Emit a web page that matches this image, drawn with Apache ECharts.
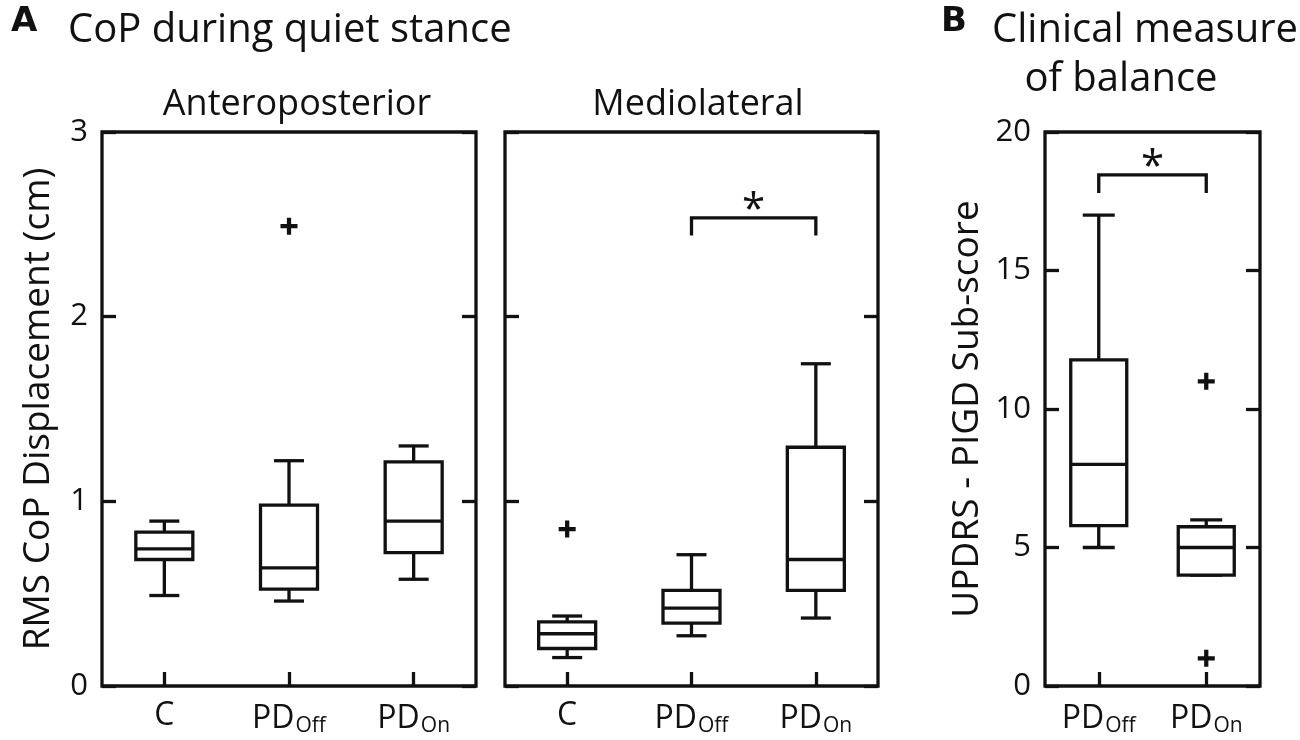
<!DOCTYPE html>
<html><head><meta charset="utf-8">
<script src="https://cdn.jsdelivr.net/npm/echarts@6/dist/echarts.min.js"></script>
<style>html,body{margin:0;padding:0;background:#fff}#c{width:1300px;height:740px}</style>
</head><body><div id="c"></div>
<script>
// ---- data ----
const catsA = ['C', 'PD_Off', 'PD_On'];
const catsB = ['PD_Off', 'PD_On'];
// [low whisker, Q1, median, Q3, high whisker]
const apBoxes = [
  [0.49, 0.685, 0.743, 0.833, 0.893],
  [0.46, 0.525, 0.64, 0.979, 1.22],
  [0.578, 0.722, 0.893, 1.214, 1.30]
];
const apOutliers = [[1, 2.49]];
const mlBoxes = [
  [0.154, 0.203, 0.283, 0.347, 0.379],
  [0.272, 0.34, 0.422, 0.518, 0.711],
  [0.368, 0.518, 0.685, 1.293, 1.745]
];
const mlOutliers = [[0, 0.85]];
const mlSig = [[1, 2, 2.535, 2.44]]; // [from, to, barY, endY]
const pigdBoxes = [
  [5, 5.79, 8, 11.77, 17],
  [4, 4, 5, 5.75, 6]
];
const pigdOutliers = [[1, 11], [1, 1]];
const pigdSig = [[0, 1, 18.45, 17.8]];

const FONT = '"Open Sans", "Noto Sans", sans-serif';
const INK = '#111';
const LW = 3.3;

function boxData(arr) { return arr.map((b, i) => [i].concat(b)); }

function boxRenderer(boxW, capW) {
  return function (params, api) {
    const x = api.value(0);
    const lo = api.coord([x, api.value(1)]);
    const q1 = api.coord([x, api.value(2)]);
    const md = api.coord([x, api.value(3)]);
    const q3 = api.coord([x, api.value(4)]);
    const hi = api.coord([x, api.value(5)]);
    const cx = md[0];
    const st = { stroke: INK, lineWidth: LW, fill: null, lineCap: 'butt' };
    return {
      type: 'group',
      children: [
        { type: 'line', shape: { x1: cx, y1: q3[1], x2: cx, y2: hi[1] }, style: st },
        { type: 'line', shape: { x1: cx, y1: q1[1], x2: cx, y2: lo[1] }, style: st },
        { type: 'line', shape: { x1: cx - capW / 2, y1: hi[1], x2: cx + capW / 2, y2: hi[1] }, style: st },
        { type: 'line', shape: { x1: cx - capW / 2, y1: lo[1], x2: cx + capW / 2, y2: lo[1] }, style: st },
        { type: 'rect', shape: { x: cx - boxW / 2, y: q3[1], width: boxW, height: q1[1] - q3[1] }, style: { stroke: INK, lineWidth: LW, fill: '#fff' } },
        { type: 'line', shape: { x1: cx - boxW / 2, y1: md[1], x2: cx + boxW / 2, y2: md[1] }, style: st }
      ]
    };
  };
}

function sigRenderer(starOffset) {
  return function (params, api) {
    const a = api.value(0), b = api.value(1);
    const p1 = api.coord([a, api.value(2)]);
    const p2 = api.coord([b, api.value(2)]);
    const e1 = api.coord([a, api.value(3)]);
    const st = { stroke: INK, lineWidth: LW, fill: null };
    return {
      type: 'group',
      children: [
        { type: 'polyline', shape: { points: [[p1[0], e1[1]], [p1[0], p1[1]], [p2[0], p1[1]], [p2[0], e1[1]]] }, style: st },
        { type: 'text', style: { text: '*', x: (p1[0] + p2[0]) / 2, y: p1[1] - starOffset, align: 'center', verticalAlign: 'bottom', fontSize: 42, fontFamily: FONT, fill: INK } }
      ]
    };
  };
}

const plusPath = 'path://M3.75,0H6.25V3.75H10V6.25H6.25V10H3.75V6.25H0V3.75H3.75Z';

const labelRich = {
  n: { fontSize: 32, fontFamily: FONT, color: INK },
  s: { fontSize: 21, fontFamily: FONT, color: INK, verticalAlign: 'bottom', padding: [16, 0, 0, 1] }
};
function catFmt(v) {
  if (v === 'C') return '{n|C}';
  const parts = v.split('_');
  return '{n|' + parts[0] + '}{s|' + parts[1] + '}';
}

function xAxisDef(grid, cats) {
  return {
    type: 'category', gridIndex: grid, data: cats, boundaryGap: true,
    axisLine: { show: false },
    axisTick: { show: true, inside: true, alignWithLabel: true, length: 14, lineStyle: { color: INK, width: LW } },
    axisLabel: { margin: 14, formatter: catFmt, rich: labelRich },
    splitLine: { show: false }
  };
}
function yAxisDef(grid, min, max, interval, showLabels, pos, name, nameGap) {
  return {
    type: 'value', gridIndex: grid, min: min, max: max, interval: interval, position: pos,
    name: name || '', nameLocation: 'middle', nameGap: nameGap || 0, nameRotate: 90,
    nameTextStyle: { fontSize: 37, fontFamily: FONT, color: INK },
    axisLine: { show: false },
    axisTick: { show: true, inside: true, length: 14, lineStyle: { color: INK, width: LW } },
    axisLabel: { show: showLabels, fontSize: 31, fontFamily: FONT, color: INK, margin: 14 },
    splitLine: { show: false }
  };
}

const gridStyle = { show: true, borderColor: INK, borderWidth: LW, backgroundColor: 'transparent' };
const headStyle = (size) => ({ fontSize: size, fontWeight: 'normal', fontFamily: FONT, color: INK });
const letterStyle = { fontSize: 34, fontWeight: 'bold', fontFamily: '"DejaVu Sans", "Liberation Sans", sans-serif', color: INK };

const option = {
  animation: false,
  backgroundColor: '#fff',
  textStyle: { fontFamily: FONT },
  title: [
    { text: 'A', left: 6, top: 0, textStyle: letterStyle },
    { text: 'CoP during quiet stance', left: 63, top: 6, textStyle: headStyle(40) },
    { text: 'Anteroposterior', left: 292, textAlign: 'center', top: 82, textStyle: headStyle(36) },
    { text: 'Mediolateral', left: 693, textAlign: 'center', top: 82, textStyle: headStyle(36) },
    { text: 'B', left: 936, top: 0, textStyle: letterStyle },
    { text: 'Clinical measure', left: 1140, textAlign: 'center', top: 6, textStyle: headStyle(40) },
    { text: 'of balance', left: 1116, textAlign: 'center', top: 55, textStyle: headStyle(40) }
  ],
  grid: [
    Object.assign({ left: 102, top: 132, width: 374, height: 554 }, gridStyle),
    Object.assign({ left: 505, top: 132, width: 373, height: 554 }, gridStyle),
    Object.assign({ left: 1045, top: 132, width: 215, height: 554 }, gridStyle)
  ],
  xAxis: [xAxisDef(0, catsA), xAxisDef(1, catsA), xAxisDef(2, catsB)],
  yAxis: [
    yAxisDef(0, 0, 3, 1, true, 'left', 'RMS CoP Displacement (cm)', 45),
    yAxisDef(0, 0, 3, 1, false, 'right'),
    yAxisDef(1, 0, 3, 1, false, 'left'),
    yAxisDef(1, 0, 3, 1, false, 'right'),
    yAxisDef(2, 0, 20, 5, true, 'left', 'UPDRS - PIGD Sub-score', 59),
    yAxisDef(2, 0, 20, 5, false, 'right')
  ],
  series: [
    { type: 'custom', xAxisIndex: 0, yAxisIndex: 0, renderItem: boxRenderer(57, 30), data: boxData(apBoxes), encode: { x: 0, y: [1, 2, 3, 4, 5] }, clip: false, z: 3 },
    { type: 'scatter', xAxisIndex: 0, yAxisIndex: 0, symbol: plusPath, symbolSize: 17, itemStyle: { color: INK, opacity: 1 }, data: apOutliers, z: 4 },
    { type: 'custom', xAxisIndex: 1, yAxisIndex: 2, renderItem: boxRenderer(57, 30), data: boxData(mlBoxes), encode: { x: 0, y: [1, 2, 3, 4, 5] }, clip: false, z: 3 },
    { type: 'scatter', xAxisIndex: 1, yAxisIndex: 2, symbol: plusPath, symbolSize: 17, itemStyle: { color: INK, opacity: 1 }, data: mlOutliers, z: 4 },
    { type: 'custom', xAxisIndex: 1, yAxisIndex: 2, renderItem: sigRenderer(-14), data: mlSig, encode: { x: [0, 1], y: [2, 3] }, clip: false, z: 3 },
    { type: 'custom', xAxisIndex: 2, yAxisIndex: 4, renderItem: boxRenderer(56, 32), data: boxData(pigdBoxes), encode: { x: 0, y: [1, 2, 3, 4, 5] }, clip: false, z: 3 },
    { type: 'scatter', xAxisIndex: 2, yAxisIndex: 4, symbol: plusPath, symbolSize: 17, itemStyle: { color: INK, opacity: 1 }, data: pigdOutliers, z: 4 },
    { type: 'custom', xAxisIndex: 2, yAxisIndex: 4, renderItem: sigRenderer(-14), data: pigdSig, encode: { x: [0, 1], y: [2, 3] }, clip: false, z: 3 }
  ]
};
const chart = echarts.init(document.getElementById('c'), null, { renderer: 'canvas' });
chart.setOption(option);
</script></body></html>
